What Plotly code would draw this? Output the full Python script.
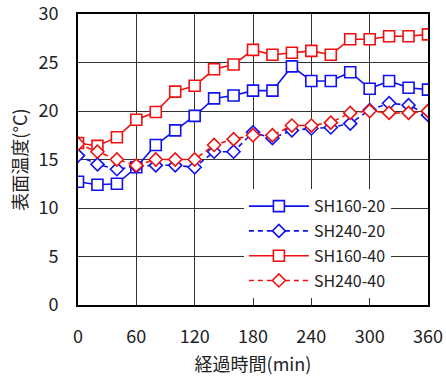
import plotly.graph_objects as go

time_min = [0, 20, 40, 60, 80, 100, 120, 140, 160, 180, 200, 220, 240, 260, 280, 300, 320, 340, 360]
sh160_20 = [12.7, 12.4, 12.5, 14.2, 16.5, 18.0, 19.5, 21.3, 21.6, 22.1, 22.1, 24.6, 23.1, 23.1, 24.0, 22.3, 23.1, 22.4, 22.2]
sh240_20 = [15.4, 14.5, 14.0, 14.3, 14.4, 14.4, 14.2, 15.8, 15.8, 17.8, 17.2, 18.0, 18.2, 18.3, 18.7, 20.1, 20.8, 20.6, 19.6]
sh160_40 = [16.7, 16.4, 17.3, 19.1, 19.9, 22.0, 22.6, 24.3, 24.8, 26.3, 25.8, 26.0, 26.2, 25.8, 27.4, 27.4, 27.7, 27.7, 27.9]
sh240_40 = [16.6, 15.8, 15.0, 14.4, 15.0, 15.0, 15.0, 16.5, 17.1, 17.5, 17.5, 18.5, 18.5, 18.8, 19.8, 20.0, 19.8, 19.8, 20.0]
names = ["SH160-20", "SH240-20", "SH160-40", "SH240-40"]
x_ticks = [0, 60, 120, 180, 240, 300, 360]
y_ticks = [0, 5, 10, 15, 20, 25, 30]

FONT = "Noto Sans CJK JP"
BLUE = "#1010F0"
RED = "#F01010"

series = [
    (names[0], sh160_20, BLUE, "solid", "square", 11),
    (names[1], sh240_20, BLUE, "5px,4px", "diamond", 10),
    (names[2], sh160_40, RED, "solid", "square", 11),
    (names[3], sh240_40, RED, "5px,4px", "diamond", 10),
]

fig = go.Figure()
for i, (nm, ys, col, dash, sym, sz) in enumerate(series):
    fig.add_trace(go.Scatter(
        x=time_min, y=ys, name=nm, mode="lines+markers",
        line=dict(color=col, width=1.6, dash=dash),
        marker=dict(symbol=sym, size=sz, color="white",
                    line=dict(color=col, width=1.6)),
        legendgroup=f"g{i}",
    ))

fig.update_layout(
    width=446, height=380,
    margin=dict(l=78, r=18, t=14, b=75),
    paper_bgcolor="white", plot_bgcolor="white",
    font=dict(family=FONT, size=18, color="#222"),
    showlegend=True,
    legend=dict(
        x=0.474, y=0.398, xanchor="left", yanchor="top",
        bgcolor="white", borderwidth=0,
        font=dict(family=FONT, size=16, color="#222"),
        tracegroupgap=1,
        itemwidth=60,
    ),
    xaxis=dict(
        range=[0, 360], tickvals=x_ticks, showgrid=True,
        gridcolor="#333", gridwidth=1,
        showline=True, linecolor="black", linewidth=2, mirror=True,
        ticks="outside", ticklen=14, tickcolor="rgba(0,0,0,0)",
        zeroline=False, automargin=False, ticklabeloverflow="allow",
        title=dict(text="経過時間(min)", font=dict(family=FONT, size=18), standoff=12),
    ),
    yaxis=dict(
        range=[0, 30], tickvals=y_ticks, showgrid=True,
        gridcolor="#333", gridwidth=1,
        showline=True, linecolor="black", linewidth=2, mirror=True,
        ticks="outside", ticklen=14, tickcolor="rgba(0,0,0,0)",
        zeroline=False, automargin=False, ticklabeloverflow="allow",
        title=dict(text="表面温度(°C)", font=dict(family=FONT, size=18), standoff=6),
    ),
)

fig.write_html("out.html")
